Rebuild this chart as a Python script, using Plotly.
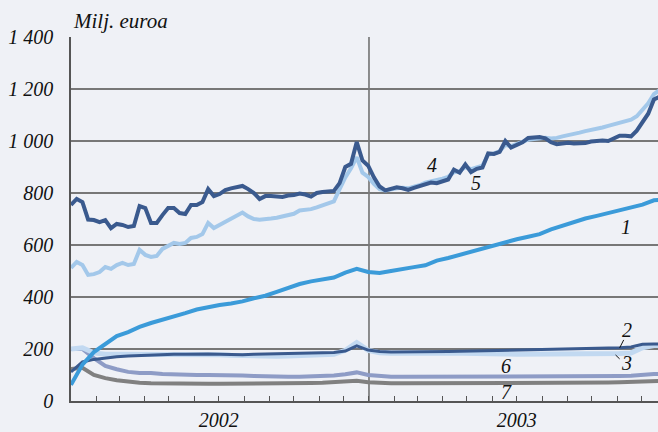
import pandas as pd
import plotly.graph_objects as go

# Weekly observations (series 4 and 5) and two-weekly observations (others)
weeks = pd.date_range("2002-01-01", periods=104, freq="7D")
fortnights = pd.date_range("2002-01-01", periods=53, freq="14D")

s4 = [754, 777, 765, 698, 696, 688, 696, 665, 681, 677, 669, 673, 750, 742, 685, 685,
      715, 742, 742, 723, 719, 754, 754, 765, 815, 788, 796, 811, 818, 823, 827, 815,
      800, 777, 788, 788, 786, 785, 790, 792, 798, 794, 786, 800, 804, 806, 808, 838,
      900, 912, 996, 925, 905, 860, 825, 810, 815, 822, 818, 812, 820, 826, 835, 840,
      838, 846, 852, 890, 878, 910, 880, 893, 898, 952, 950, 958, 1000, 975, 985, 995,
      1012, 1012, 1015, 1010, 995, 988, 992, 993, 990, 990, 992, 998, 1000, 1002, 1000, 1012,
      1020, 1020, 1018, 1040, 1072, 1105, 1160, 1170]
s5 = [512, 535, 523, 485, 488, 496, 515, 508, 523, 531, 523, 527, 581, 562, 554, 558,
      585, 596, 608, 604, 608, 627, 631, 642, 685, 665, 677, 690, 700, 712, 725, 710,
      700, 697, 698, 702, 705, 710, 714, 720, 733, 735, 738, 745, 752, 760, 768, 815,
      860, 895, 938, 878, 862, 835, 815, 810, 815, 818, 820, 818, 824, 830, 840, 845,
      848, 855, 862, 880, 884, 900, 892, 900, 905, 948, 952, 960, 985, 980, 988, 995,
      1005, 1008, 1010, 1012, 1010, 1012, 1018, 1022, 1028, 1032, 1038, 1042, 1046, 1052, 1058, 1064,
      1070, 1076, 1082, 1095, 1118, 1145, 1180, 1196]
s1 = [62, 140, 188, 220, 250, 265, 285, 300, 312, 325, 338, 352, 362, 369, 375, 383,
      395, 405, 420, 435, 450, 460, 467, 475, 494, 508, 496, 492, 500, 506, 515, 522,
      540, 550, 562, 575, 588, 600, 612, 622, 632, 642, 660, 675, 690, 702, 712, 722,
      733, 743, 755, 772, 774]
s2 = [112, 150, 160, 166, 170, 173, 175, 177, 178, 180, 180, 181, 181, 180, 178, 178,
      180, 181, 181, 182, 182, 184, 185, 187, 192, 212, 196, 190, 188, 188, 188, 188,
      190, 190, 191, 192, 193, 193, 193, 194, 195, 196, 197, 198, 199, 200, 201, 203,
      205, 208, 218, 219, 219]
s3 = [200, 205, 185, 180, 180, 180, 180, 180, 182, 182, 180, 182, 180, 178, 176, 174,
      172, 172, 172, 173, 174, 175, 177, 180, 195, 225, 195, 186, 184, 183, 183, 183,
      184, 185, 185, 185, 184, 182, 181, 180, 180, 180, 180, 180, 181, 182, 183, 183,
      183, 185, 205, 213, 213]
s6 = [200, 200, 165, 135, 122, 112, 108, 108, 104, 102, 100, 100, 100, 100, 100, 98,
      96, 94, 93, 93, 93, 94, 95, 98, 103, 110, 100, 96, 93, 93, 93, 93,
      94, 95, 95, 95, 95, 95, 95, 95, 94, 94, 94, 94, 94, 95, 95, 95,
      96, 97, 102, 104, 104]
s7 = [123, 128, 100, 88, 80, 74, 70, 68, 67, 66, 66, 66, 66, 66, 66, 66,
      66, 66, 67, 67, 68, 69, 70, 72, 75, 78, 72, 69, 68, 68, 68, 68,
      69, 69, 70, 70, 70, 70, 70, 70, 70, 70, 70, 70, 70, 70, 71, 71,
      72, 73, 76, 78, 78]

y_ticks = [0, 200, 400, 600, 800, 1000, 1200, 1400]
y_labels = ["0", "200", "400", "600", "800", "1 000", "1 200", "1 400"]

# monthly tick marks, year label placed mid-year
months = pd.date_range("2002-01-01", "2003-12-01", freq="MS")
month_labels = [str(d.year) if d.month == 7 else "" for d in months]

bg = "#eff1f6"
serif = "Liberation Serif"

fig = go.Figure()
fig.add_trace(go.Scatter(x=fortnights, y=s7, mode="lines", line=dict(color="#808080", width=4)))
fig.add_trace(go.Scatter(x=fortnights, y=s6, mode="lines", line=dict(color="#8e9cc6", width=4)))
fig.add_trace(go.Scatter(x=fortnights, y=s3, mode="lines", line=dict(color="#c2d9f1", width=5)))
fig.add_trace(go.Scatter(x=fortnights, y=s2, mode="lines", line=dict(color="#3a5a8e", width=3)))
fig.add_trace(go.Scatter(x=fortnights, y=s1, mode="lines", line=dict(color="#3b9bd9", width=4)))
fig.add_trace(go.Scatter(x=weeks, y=s5, mode="lines", line=dict(color="#a3c8ea", width=4)))
fig.add_trace(go.Scatter(x=weeks, y=s4, mode="lines", line=dict(color="#3a5a8e", width=4)))

# year divider
fig.add_shape(type="line", xref="x", yref="paper", x0="2003-01-01", x1="2003-01-01",
              y0=0, y1=1, line=dict(color="#6a6a6a", width=1.5), layer="below")

# series labels
labels = [("4", "2003-03-19", 908), ("5", "2003-05-12", 838), ("1", "2003-11-12", 669),
          ("2", "2003-11-13", 273), ("3", "2003-11-13", 146), ("6", "2003-06-18", 135),
          ("7", "2003-06-18", 35)]
for txt, xd, yv in labels:
    fig.add_annotation(x=xd, y=yv, text=txt, showarrow=False,
                       font=dict(family=serif, size=20, style="italic", color="#111"))
fig.add_shape(type="line", x0="2003-11-04", y0=204, x1="2003-11-09", y1=235,
              line=dict(color="#111", width=1))
fig.add_shape(type="line", x0="2003-10-30", y0=177, x1="2003-11-04", y1=162,
              line=dict(color="#111", width=1))

fig.add_annotation(x=0, y=1, xref="paper", yref="paper", xanchor="left", yanchor="bottom",
                   yshift=2, text="Milj. euroa", showarrow=False,
                   font=dict(family=serif, size=21, style="italic", color="#111"))

fig.update_layout(
    width=658, height=432,
    margin=dict(l=71, r=0, t=37, b=31),
    paper_bgcolor=bg, plot_bgcolor=bg,
    showlegend=False,
    font=dict(family=serif, size=20, style="italic", color="#111"),
    xaxis=dict(range=["2002-01-01", "2003-12-21"], tickvals=months, ticktext=month_labels,
               showgrid=False, automargin=False, ticks="inside", ticklen=5, tickwidth=1,
               tickcolor="#555", showline=True, linecolor="#555", linewidth=1.5,
               ticklabelstandoff=0),
    yaxis=dict(range=[0, 1400], tickvals=y_ticks, ticktext=y_labels, showgrid=True,
               automargin=False, gridcolor="#777", gridwidth=1.5, showline=True,
               linecolor="#555", linewidth=1.5, zeroline=False, ticks="",
               ticklabelstandoff=12),
)

# the page has a default 8px body margin; remove it so the figure fills the window
fig.write_html("out.html", config={"displayModeBar": False},
               post_script="document.body.style.margin='0';")
